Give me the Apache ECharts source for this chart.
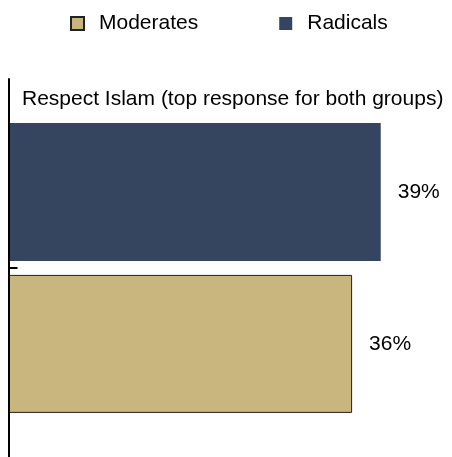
<!DOCTYPE html>
<html>
<head>
<meta charset="utf-8">
<script src="https://cdn.jsdelivr.net/npm/echarts@6/dist/echarts.min.js"></script>
<style>
  html, body { margin: 0; padding: 0; background: #fff; }
  #chart { width: 452px; height: 457px; }
</style>
</head>
<body>
<div id="chart"></div>
<script>
// Survey answer shown as a single category, one bar per group
const categories = ['Respect Islam (top response for both groups)'];
const seriesNames = ['Moderates', 'Radicals'];
const moderatesValues = [36];
const radicalsValues = [39];

const FONT = 'Liberation Sans, Arial, sans-serif';

const chart = echarts.init(document.getElementById('chart'));

const labelStyle = {
  show: true,
  position: 'right',
  distance: 17,
  formatter: p => p.value + '%',
  color: '#000',
  fontFamily: FONT,
  fontSize: 21
};

chart.setOption({
  animation: false,
  backgroundColor: '#ffffff',
  title: {
    text: categories[0],
    left: 17,
    top: 84,
    textStyle: { fontFamily: FONT, fontSize: 21, fontWeight: 'normal', color: '#000' }
  },
  legend: {
    data: seriesNames,
    icon: 'rect',
    top: 13,
    left: 70,
    padding: 0,
    itemWidth: 13,
    itemHeight: 13,
    itemGap: 81,
    textStyle: { fontFamily: FONT, fontSize: 21, color: '#000', padding: [0, 0, 0, 10] }
  },
  grid: { left: 8.5, right: 14, top: 79, bottom: -4, containLabel: false },
  xAxis: {
    type: 'value',
    min: 0,
    max: 45,
    show: false
  },
  yAxis: {
    type: 'category',
    data: categories,
    z: 5,
    axisLine: { show: true, lineStyle: { color: '#000', width: 2 } },
    axisTick: { show: true, inside: true, alignWithLabel: true, length: 9, lineStyle: { color: '#000', width: 2 } },
    axisLabel: { show: false },
    splitLine: { show: false }
  },
  // Radicals listed first so its bar sits above the Moderates bar
  series: [
    {
      name: seriesNames[1],
      type: 'bar',
      data: radicalsValues,
      barWidth: 138,
      barGap: '10%',
      itemStyle: { color: '#35455f' },
      label: labelStyle
    },
    {
      name: seriesNames[0],
      type: 'bar',
      data: moderatesValues,
      barWidth: 138,
      barGap: '10%',
      itemStyle: { color: '#c8b67e', borderColor: '#222', borderWidth: 1 },
      label: labelStyle
    }
  ]
});
</script>
</body>
</html>
